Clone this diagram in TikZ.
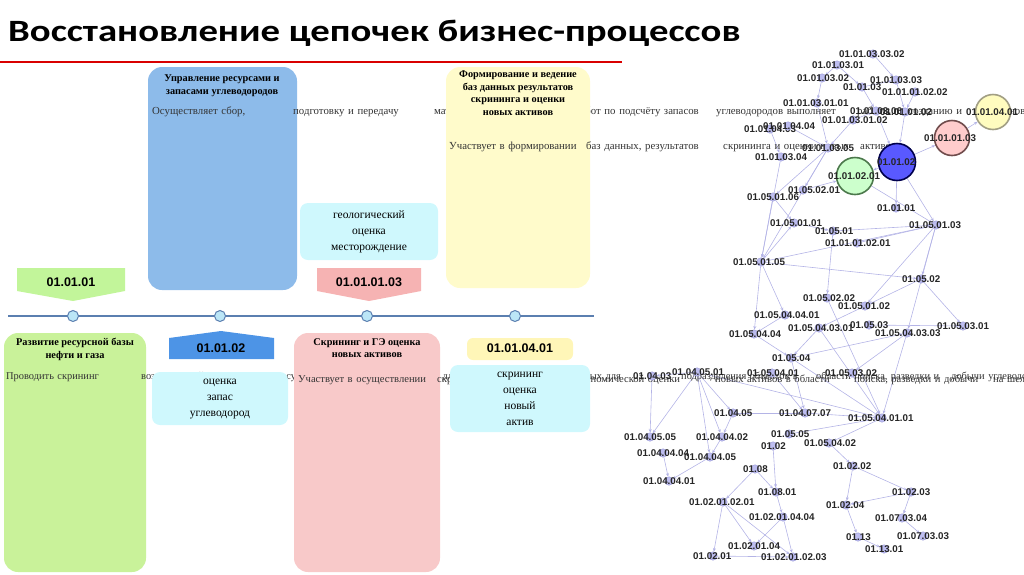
\documentclass[tikz,border=0pt]{standalone}
\usepackage{fontspec}
\setmainfont{Liberation Serif}
\newfontfamily\gfont{Liberation Sans}
\newfontfamily\tfont[FakeStretch=1.25]{Carlito}
\usetikzlibrary{arrows.meta,backgrounds}
\definecolor{bluebox}{HTML}{8DBBEA}
\definecolor{yelbox}{HTML}{FFFBCB}
\definecolor{cyanbox}{HTML}{CFF8FD}
\definecolor{greenbox}{HTML}{C9F29A}
\definecolor{pinkbox}{HTML}{F8C9C9}
\definecolor{greentag}{HTML}{C2F59A}
\definecolor{pinktag}{HTML}{F6B3B3}
\definecolor{bluetag}{HTML}{4D94E6}
\definecolor{yeltag}{HTML}{FFF6B8}
\definecolor{tline}{HTML}{5B7FB0}
\definecolor{edgec}{HTML}{B4B4E6}
\definecolor{dotc}{HTML}{BDBDF0}
\definecolor{dotd}{HTML}{9A9AD6}
\newcommand\myjl[1]{\hbox to\linewidth{#1}}
\newcommand\mylastl[1]{\hbox to\linewidth{#1\hfil}}
\begin{document}
\begin{tikzpicture}[x=1pt,y=-1pt,
  box/.style={rounded corners=14pt,inner sep=0pt},
  btitle/.style={font=\fontsize{10.3}{12.5}\selectfont\bfseries,align=center,anchor=north,inner sep=0pt},
  bbody/.style={font=\fontsize{10.8}{12.9}\selectfont,align=left,anchor=north west,inner sep=0pt,text=black!80},
  ctext/.style={font=\fontsize{11.5}{15.8}\selectfont,align=center,inner sep=0pt},
  tagtext/.style={font=\gfont\bfseries\fontsize{12.5}{13}\selectfont,inner sep=0pt},
  tdot/.style={circle,draw=tline,fill=cyanbox!70!bluebox,line width=1pt,minimum size=11pt,inner sep=0pt},
  gdot/.style={circle,draw=dotd,fill=dotc,minimum size=8.5pt,inner sep=0pt,line width=0.4pt},
  glab/.style={font=\gfont\bfseries\fontsize{9.8}{9.8}\selectfont,anchor=west,inner sep=0pt,text=black!85},
  ge/.style={draw=edgec,line width=0.6pt,-{Stealth[length=3.5pt,width=3pt]}},
]
\useasboundingbox (0,0) rectangle (1024,574);
% title
\node[font=\tfont\bfseries\fontsize{31}{32}\selectfont,anchor=west,inner sep=0pt] (title) at (8,33) {Восстановление цепочек бизнес-процессов};
\draw[red!85!black,line width=2pt] (0,62) -- (622,62);
% timeline
\coordinate (tl0) at (8,316); \coordinate (tl1) at (594,316);
\draw[tline,line width=1.2pt] (tl0) -- (tl1);
\node[tdot] (t1) at (73,316) {};
\node[tdot] (t2) at (220,316) {};
\node[tdot] (t3) at (367,316) {};
\node[tdot] (t4) at (515,316) {};
% blue box
\fill[bluebox,box] (148,67) rectangle (297,290);
\node[btitle] (bt) at (222,75) {Управление ресурсами и\\запасами углеводородов};
\node[bbody,text width=141pt] (bb) at (152,107) {\myjl{Осуществляет сбор,}\myjl{подготовку и передачу}\myjl{материалов для выполнения}\myjl{работ по подсчёту запасов}\myjl{углеводородов выполняет}\myjl{работы по созданию и}\myjl{обновлению трёхмерной}\myjl{геологической модели}\mylastl{месторождений,}\myjl{обоснованию подсчётных}\myjl{параметров и оценке}\mylastl{запасов углеводородов.}};
% yellow box
\fill[yelbox,box] (446,67) rectangle (590,288);
\node[btitle] (yt) at (518,71) {Формирование и ведение\\баз данных результатов\\скрининга и оценки\\новых активов};
\node[bbody,text width=137pt] (yb) at (449,142) {\myjl{Участвует в формировании}\myjl{баз данных, результатов}\myjl{скрининга и оценки новых}\mylastl{активов}};
% geo cyan
\fill[cyanbox,rounded corners=8pt] (300,203) rectangle (438,260);
\node[ctext] (c1) at (369,232) {геологический\\оценка\\месторождение};
% tags
\fill[greentag] (17,268) -- (125,268) -- (125,291) -- (73,301) -- (17,291) -- cycle;
\node[tagtext] (g1) at (71,282) {01.01.01};
\fill[pinktag] (317,268) -- (421,268) -- (421,291) -- (369,301) -- (317,291) -- cycle;
\node[tagtext] (p1) at (369,282) {01.01.01.03};
\fill[bluetag] (169,359) -- (169,338) -- (221,331) -- (274,338) -- (274,359) -- cycle;
\node[tagtext] (b1) at (221,348) {01.01.02};
\fill[yeltag,rounded corners=6pt] (467,338) rectangle (573,360);
\node[tagtext] (y1) at (520,348) {01.01.04.01};
% green box
\fill[greenbox,box] (4,333) rectangle (146,572);
\node[btitle] (gt) at (75,338) {Развитие ресурсной базы\\нефти и газа};
\node[bbody,text width=135pt,font=\fontsize{10.4}{13}\selectfont] (gb) at (6,372) {\myjl{Проводить скрининг}\myjl{возможностей развития}\myjl{ресурсной базы за счет}\myjl{новых для Компании и}\myjl{профильных для}\myjl{подразделения объектов в}\myjl{области поиска, разведки и}\myjl{добычи углеводородов;}\myjl{Обеспечивать научно-}\myjl{техническую деятельность}\myjl{по разработке подходов и}\myjl{инструментов к оценке}\myjl{новых активов с}\mylastl{нетрадиционными}\mylastl{запасами и ресурсами.}};
% cyan 2
\fill[cyanbox,rounded corners=8pt] (152,372) rectangle (288,425);
\node[ctext] (c2) at (220,399) {оценка\\запас\\углеводород};
% pink box
\fill[pinkbox,box] (294,333) rectangle (440,572);
\node[btitle] (pt) at (367,338) {Скрининг и ГЭ оценка\\новых активов};
\node[bbody,text width=139pt,font=\fontsize{10.6}{13}\selectfont] (pb) at (298,375) {\myjl{Участвует в осуществлении}\myjl{скрининга и геолого-}\myjl{экономической оценки}\myjl{новых активов в области}\myjl{поиска, разведки и добычи}\myjl{на шельфе. Участвует в}\myjl{выполнении анализа}\myjl{текущего состояния}\myjl{геологической изученности}\mylastl{месторождений}\mylastl{углеводородов.}};
% cyan 3
\fill[cyanbox,rounded corners=8pt] (450,365) rectangle (590,432);
\node[ctext] (c3) at (520,399) {скрининг\\оценка\\новый\\актив};
% graph
\newcommand\gn[5]{\node[gdot] (#1) at (#2,#3) {}; \node[glab] (#1l) at (#4,#3) {#5};}
\newcommand\bign[6]{\node[circle,draw=#5,fill=#4,line width=1.6pt,minimum size=#6pt,inner sep=0pt] (#1) at (#2,#3) {};}
\bign{big}{897}{162}{blue!65}{blue!30!black}{37}
\bign{grn}{855}{176}{green!20}{green!25!black!70}{37}
\bign{pnk}{952}{138}{red!20}{red!20!black!70}{35}
\bign{yel}{993}{112}{yellow!25}{yellow!30!black!60}{35}
\node[glab] (bigl) at (877,162) {01.01.02};
\node[glab] (grnl) at (828,176) {01.01.02.01};
\node[glab] (pnkl) at (924,138) {01.01.01.03};
\node[glab] (yell) at (966,112) {01.01.04.01};
\gn{a1}{873}{54}{839}{01.01.03.03.02}
\gn{a2}{837}{65}{812}{01.01.03.01}
\gn{a3}{822}{78}{797}{01.01.03.02}
\gn{a4}{862}{87}{843}{01.01.03}
\gn{a5}{896}{80}{870}{01.01.03.03}
\gn{a6}{915}{92}{882}{01.01.01.02.02}
\gn{a7}{817}{103}{783}{01.01.03.01.01}
\gn{a8}{876}{111}{850}{01.01.03.06}
\gn{a9}{905}{112}{880}{01.01.01.02}
\gn{a10}{853}{120}{822}{01.01.03.01.02}
\gn{a11}{770}{129}{744}{01.01.04.03}
\gn{a12}{788}{126}{763}{01.01.04.04}
\gn{a13}{828}{148}{802}{01.01.03.05}
\gn{a14}{781}{157}{755}{01.01.03.04}
\gn{b1}{803}{190}{788}{01.05.02.01}
\gn{b2}{773}{197}{747}{01.05.01.06}
\gn{b3}{896}{208}{877}{01.01.01}
\gn{b4}{794}{223}{770}{01.05.01.01}
\gn{b5}{833}{231}{815}{01.05.01}
\gn{b6}{936}{225}{909}{01.05.01.03}
\gn{b7}{857}{243}{825}{01.01.01.02.01}
\gn{b8}{761}{262}{733}{01.05.01.05}
\gn{b9}{921}{279}{902}{01.05.02}
\gn{c1g}{827}{298}{803}{01.05.02.02}
\gn{c2g}{865}{306}{838}{01.05.01.02}
\gn{c3g}{785}{315}{754}{01.05.04.04.01}
\gn{c4}{819}{328}{788}{01.05.04.03.01}
\gn{c5}{869}{325}{850}{01.05.03}
\gn{c6}{907}{333}{875}{01.05.04.03.03}
\gn{c7}{963}{326}{937}{01.05.03.01}
\gn{c8}{754}{334}{729}{01.05.04.04}
\gn{c9}{791}{358}{772}{01.05.04}
\gn{c10}{772}{373}{747}{01.05.04.01}
\gn{c11}{852}{373}{825}{01.05.03.02}
\gn{d1}{652}{376}{633}{01.04.03}
\gn{d2}{697}{372}{672}{01.04.05.01}
\gn{d3}{733}{413}{714}{01.04.05}
\gn{d4}{805}{413}{779}{01.04.07.07}
\gn{d5}{882}{418}{848}{01.05.04.01.01}
\gn{d6}{650}{437}{624}{01.04.05.05}
\gn{d7}{722}{437}{696}{01.04.04.02}
\gn{d8}{789}{434}{771}{01.05.05}
\gn{d9}{773}{446}{761}{01.02}
\gn{d10}{829}{443}{804}{01.05.04.02}
\gn{d11}{663}{453}{637}{01.04.04.04}
\gn{d12}{710}{457}{684}{01.04.04.05}
\gn{e1}{755}{469}{743}{01.08}
\gn{e2}{853}{466}{833}{01.02.02}
\gn{e3}{669}{481}{643}{01.04.04.01}
\gn{e4}{776}{492}{758}{01.08.01}
\gn{e5}{911}{492}{892}{01.02.03}
\gn{e6}{723}{502}{689}{01.02.01.02.01}
\gn{e7}{846}{505}{826}{01.02.04}
\gn{e8}{783}{517}{749}{01.02.01.04.04}
\gn{e9}{902}{518}{875}{01.07.03.04}
\gn{e10}{858}{537}{846}{01.13}
\gn{e11}{923}{536}{897}{01.07.03.03}
\gn{e12}{754}{546}{728}{01.02.01.04}
\gn{e13}{884}{549}{865}{01.13.01}
\gn{e14}{713}{556}{693}{01.02.01}
\gn{e15}{793}{557}{761}{01.02.01.02.03}
\begin{scope}[on background layer]
\foreach \u/\v in {a1/a5,a2/a3,a2/a4,a3/a7,a4/a5,a4/a8,a5/a9,a6/a9,a7/a13,a10/a13,a10/a8,a8/big,a9/big,a12/a13,a11/a14,a14/b8,a13/b1,a13/b2,a13/b8,big/pnk,pnk/yel,big/grn,big/b3,big/b6,grn/b6,b1/grn,b2/b4,b5/b6,b8/b6,b8/b9,b8/b4,b7/b6,b6/b9,b6/c6,b6/c2g,b9/c7,b9/c2g,b5/c1g,b8/c8,b8/c3g,c1g/d5,c2g/c4,c3g/c8,c4/c9,c8/c9,c9/c6,c5/c7,c6/c11,c6/d5,c4/d5,c9/d4,c9/d5,d2/d5,d3/d4,d4/d5,d8/d5,d5/d10,d10/e2,e2/e7,e2/e5,e5/e7,e5/e9,e9/e11,e7/e10,e10/e13,d2/d1,d1/d6,d2/d6,d2/d3,d2/d7,d2/d12,d3/d7,d7/d12,d11/e3,d12/e3,d9/e4,e1/e4,e1/e6,e4/e8,e6/e14,e6/e12,e6/e15,e8/e12,e8/e15,e14/e15,b4/b5,b2/b8,c10/d4}
  \draw[ge] (\u) -- (\v);
\end{scope}
\end{tikzpicture}
\end{document}
